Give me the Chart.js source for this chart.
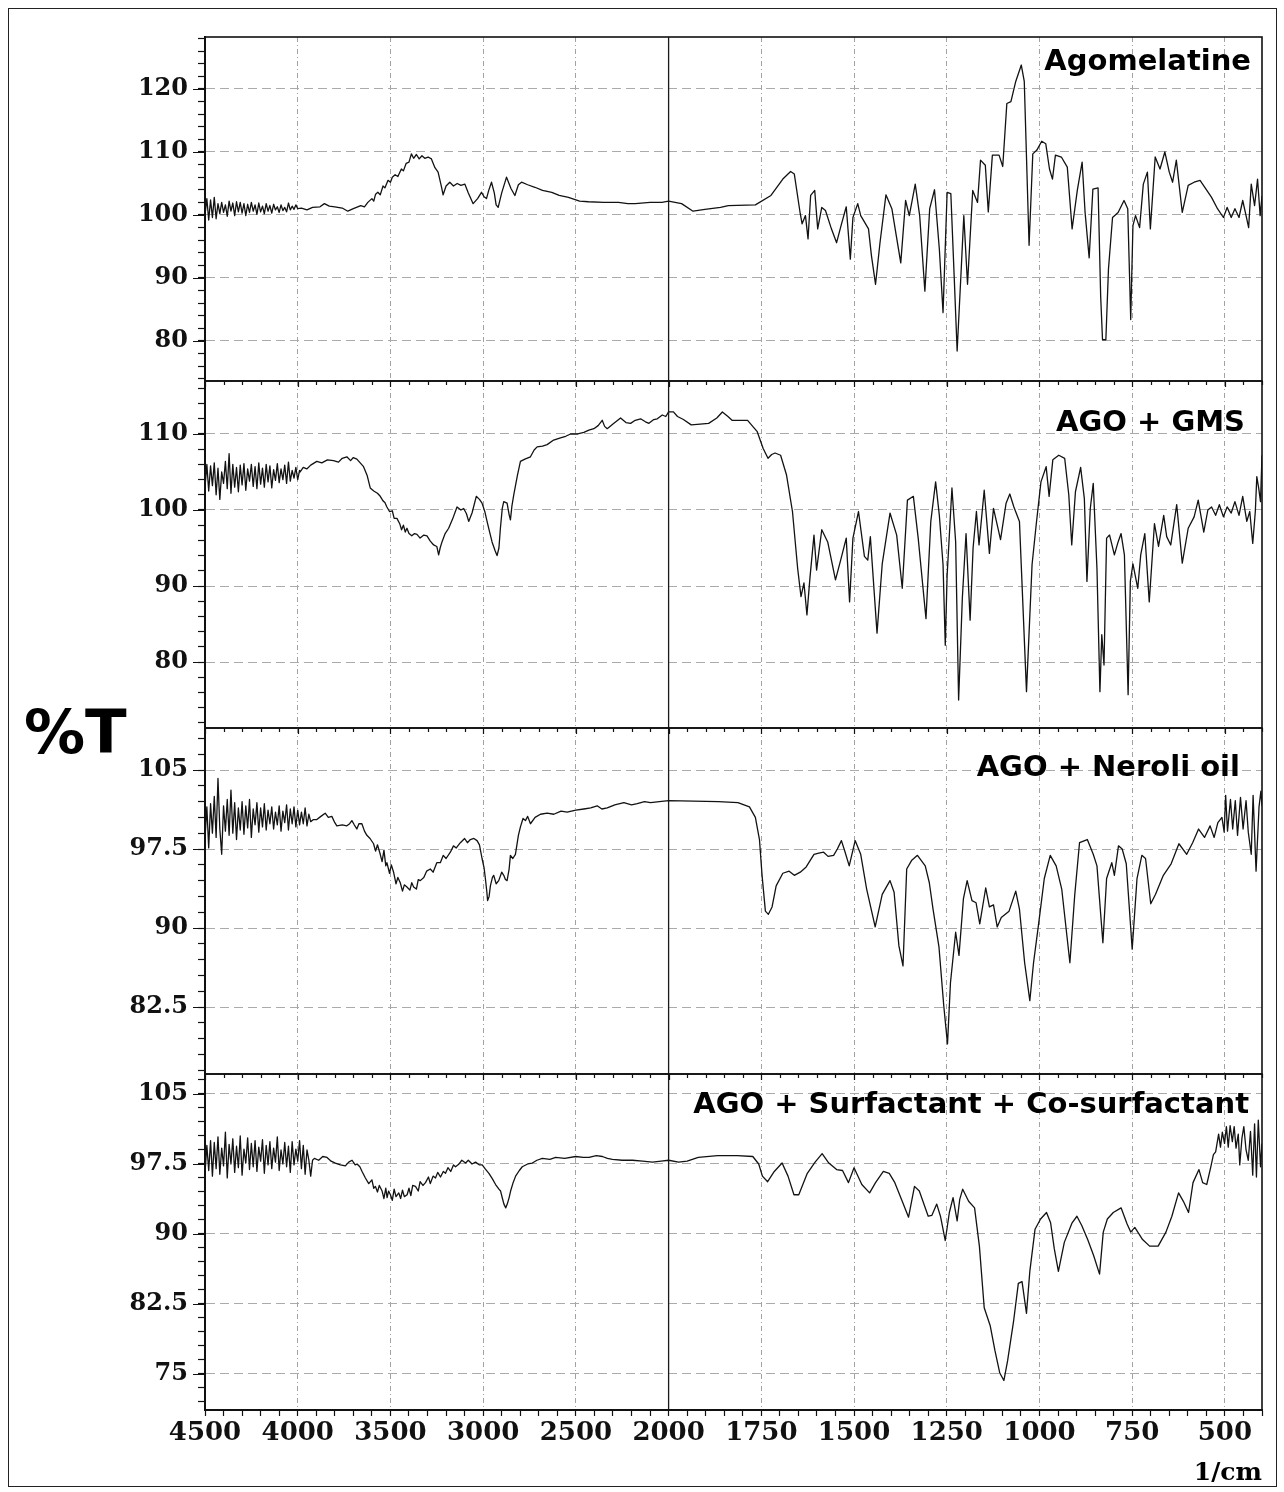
<!DOCTYPE html>
<html>
<head>
<meta charset="utf-8">
<script src="https://cdn.jsdelivr.net/npm/chart.js@4.4.0/dist/chart.umd.min.js"></script>
<style>
  html, body { margin: 0; padding: 0; background: #fff; }
  #wrap { position: relative; width: 1284px; height: 1492px; overflow: hidden; background: #fff; }
  canvas { position: absolute; }
  .frame { position: absolute; left: 8px; top: 8px; width: 1269px; height: 1479px; border: 1.5px solid #222; box-sizing: border-box; }
  .title { position: absolute; font-family: "DejaVu Sans", sans-serif; font-weight: bold; font-size: 29px; line-height: 29px; color: #000; white-space: nowrap; z-index: 5; }
  .ylab { position: absolute; left: 24px; top: 701px; font-family: "DejaVu Sans", sans-serif; font-weight: bold; font-size: 61px; line-height: 61px; color: #000; white-space: nowrap; }
  .xlab { position: absolute; right: 22px; top: 1459px; font-family: "DejaVu Serif", serif; font-weight: bold; font-size: 25px; line-height: 25px; color: #000; white-space: nowrap; }
</style>
</head>
<body>
<div id="wrap">
  <div class="frame"></div>
  <canvas id="c1"></canvas>
  <canvas id="c2"></canvas>
  <canvas id="c3"></canvas>
  <canvas id="c4"></canvas>
  <div class="title" style="right:33px; top:46px;">Agomelatine</div>
  <div class="title" style="right:39px; top:407px;">AGO + GMS</div>
  <div class="title" style="right:44px; top:752px;">AGO + Neroli oil</div>
  <div class="title" style="right:35px; top:1089px;">AGO + Surfactant + Co-surfactant</div>
  <div class="ylab">%T</div>
  <div class="xlab">1/cm</div>
</div>
<script>
// ---------------- DATA ----------------
const X_TICK_LABELS = [4500, 4000, 3500, 3000, 2500, 2000, 1750, 1500, 1250, 1000, 750, 500];
const Y_TICKS_AGO = [80, 90, 100, 110, 120];
const Y_TICKS_GMS = [80, 90, 100, 110];
const Y_TICKS_NEROLI = [82.5, 90, 97.5, 105];
const Y_TICKS_SURF = [75, 82.5, 90, 97.5, 105];

// [wavenumber (1/cm), %T]
const AGOMELATINE = [
[4500,100.0],[4490,102.6],[4480,99.2],[4470,102.4],[4460,99.6],[4450,102.8],[4440,99.4],[4430,101.8],[4420,100.2],[4410,102.0],
[4400,100.4],[4390,101.6],[4380,99.8],[4370,102.2],[4360,100.6],[4350,101.9],[4340,99.9],[4330,102.1],[4320,100.5],[4310,102.0],
[4300,100.3],[4290,101.8],[4280,99.9],[4270,101.7],[4260,100.4],[4250,102.0],[4240,100.6],[4230,101.6],[4220,100.1],[4210,101.9],
[4200,100.5],[4190,101.4],[4180,100.2],[4170,101.8],[4160,100.6],[4150,101.5],[4140,100.3],[4130,101.7],[4120,100.8],[4110,101.3],
[4100,100.4],[4090,101.6],[4080,100.7],[4070,101.2],[4060,100.5],[4050,101.9],[4040,100.8],[4030,101.4],[4020,100.9],[4010,101.6],
[4000,101.0],[3980,101.1],[3950,100.8],[3920,101.2],[3880,101.3],[3856,101.8],[3830,101.4],[3800,101.3],[3760,101.1],[3730,100.6],
[3700,101.0],[3660,101.5],[3640,101.3],[3622,102.0],[3600,102.6],[3590,102.2],[3580,103.3],[3568,103.6],[3555,103.2],[3540,104.6],
[3530,104.3],[3513,105.5],[3500,105.2],[3490,106.0],[3475,106.4],[3460,106.1],[3441,107.3],[3430,107.0],[3415,108.2],[3400,108.4],
[3387,109.7],[3375,109.0],[3360,109.6],[3345,108.9],[3330,109.4],[3315,109.0],[3297,109.2],[3279,108.9],[3260,107.5],[3243,106.8],
[3225,104.5],[3216,103.2],[3200,104.6],[3180,105.2],[3160,104.6],[3140,105.0],[3120,104.7],[3099,104.9],[3080,103.5],[3054,101.8],
[3030,102.6],[3009,103.6],[2995,102.9],[2982,102.6],[2970,103.9],[2955,105.2],[2940,103.5],[2930,101.6],[2919,101.2],[2900,103.5],
[2874,106.0],[2850,104.2],[2829,103.1],[2810,104.8],[2793,105.2],[2760,104.8],[2721,104.4],[2680,103.9],[2630,103.6],[2590,103.1],
[2540,102.8],[2480,102.2],[2432,102.1],[2350,102.0],[2270,102.0],[2220,101.8],[2180,101.8],[2100,102.0],[2036,102.0],[2000,102.2],
[1965,101.8],[1934,100.6],[1902,100.9],[1860,101.2],[1839,101.5],[1766,101.6],[1724,103.1],[1692,105.7],[1671,106.9],[1661,106.5],
[1645,100.2],[1640,98.6],[1631,99.9],[1624,96.2],[1617,103.1],[1606,103.9],[1598,97.8],[1587,101.2],[1577,100.7],[1561,97.8],
[1547,95.6],[1535,98.3],[1521,101.3],[1510,93.0],[1503,99.6],[1490,101.8],[1482,99.9],[1461,97.8],[1453,93.5],[1442,89.0],
[1430,95.6],[1414,103.2],[1398,101.0],[1386,96.7],[1374,92.4],[1361,102.3],[1351,99.9],[1335,104.9],[1323,99.9],[1309,87.9],
[1296,101.0],[1283,104.0],[1270,94.6],[1260,84.5],[1249,103.6],[1239,103.4],[1230,90.3],[1222,78.4],[1211,91.4],[1204,99.9],
[1194,89.0],[1180,103.9],[1167,102.0],[1159,108.7],[1146,107.9],[1138,100.5],[1127,109.5],[1109,109.5],[1099,107.7],[1088,117.7],
[1077,118.0],[1064,121.2],[1049,123.8],[1041,121.2],[1028,95.2],[1018,109.7],[1007,110.3],[994,111.7],[983,111.3],[973,107.3],
[965,105.7],[957,109.5],[941,109.2],[925,107.6],[912,97.8],[898,103.9],[885,108.4],[877,100.4],[866,93.2],[856,104.1],
[842,104.3],[835,87.1],[830,80.2],[821,80.2],[814,91.4],[803,99.6],[788,100.4],[772,102.3],[762,101.0],[754,83.4],
[748,98.3],[741,99.9],[730,98.0],[720,104.9],[709,106.8],[701,97.8],[688,109.2],[675,107.3],[662,110.0],[650,106.8],
[641,105.2],[631,108.7],[615,100.4],[599,104.7],[583,105.2],[567,105.5],[551,104.1],[536,102.8],[520,101.0],[504,99.6],
[494,101.2],[483,99.6],[473,101.0],[462,99.6],[452,102.3],[443,99.9],[436,98.0],[429,104.9],[420,101.5],[412,105.7],
[405,99.9],[400,103.0]
];

const AGO_GMS = [
[4500,103.0],[4490,106.0],[4480,102.5],[4470,105.8],[4460,103.2],[4450,106.2],[4440,102.0],[4430,105.5],[4420,101.4],[4410,105.0],
[4400,103.5],[4390,106.4],[4380,102.8],[4370,107.4],[4360,102.2],[4350,106.0],[4340,103.0],[4330,105.6],[4320,102.4],[4310,105.9],
[4300,103.3],[4290,106.1],[4280,102.6],[4270,105.4],[4260,103.8],[4250,106.0],[4240,103.1],[4230,105.7],[4220,102.8],[4210,106.2],
[4200,103.4],[4190,105.5],[4180,103.0],[4170,106.0],[4160,103.7],[4150,105.8],[4140,102.9],[4130,105.3],[4120,103.9],[4110,106.1],
[4100,103.6],[4090,105.4],[4080,104.0],[4070,105.9],[4060,103.5],[4050,106.3],[4040,103.8],[4030,105.2],[4020,104.2],[4010,105.6],
[4000,104.0],[3990,105.2],[3987,105.0],[3970,105.6],[3951,105.4],[3930,105.9],[3897,106.4],[3870,106.2],[3840,106.6],[3807,106.5],
[3780,106.3],[3760,106.8],[3735,107.0],[3715,106.5],[3700,106.9],[3681,106.7],[3645,105.7],[3625,104.5],[3609,102.9],[3590,102.5],
[3570,102.2],[3555,101.8],[3540,101.2],[3530,101.0],[3519,100.4],[3505,99.8],[3490,99.9],[3480,98.9],[3465,98.9],[3450,98.2],
[3440,97.4],[3430,98.0],[3420,97.1],[3411,97.6],[3400,96.9],[3385,96.6],[3370,96.9],[3357,96.8],[3340,96.3],[3320,96.7],
[3303,96.6],[3285,95.9],[3267,95.4],[3250,95.2],[3240,94.1],[3232,95.0],[3222,95.8],[3205,96.9],[3186,97.6],[3165,98.8],
[3141,100.4],[3120,100.0],[3105,100.2],[3090,99.5],[3078,98.5],[3060,99.6],[3037,101.8],[3020,101.4],[3006,100.9],[2990,99.7],
[2979,98.5],[2965,97.1],[2952,95.8],[2935,94.6],[2925,94.0],[2915,95.0],[2907,97.6],[2897,100.2],[2889,101.1],[2871,100.9],
[2860,99.4],[2853,98.7],[2845,100.5],[2835,102.0],[2815,104.6],[2799,106.4],[2775,106.7],[2745,107.0],[2725,107.9],[2709,108.3],
[2680,108.4],[2655,108.6],[2620,109.2],[2583,109.5],[2555,109.7],[2529,110.0],[2490,110.0],[2457,110.2],[2430,110.5],[2403,110.7],
[2380,111.1],[2358,111.8],[2345,111.0],[2331,110.7],[2300,111.3],[2259,112.1],[2230,111.5],[2205,111.4],[2180,111.8],[2151,112.0],
[2125,111.6],[2106,111.4],[2080,111.9],[2061,112.0],[2034,112.5],[2015,112.3],[2000,112.9],
[1987,112.9],[1976,112.3],[1960,111.9],[1939,111.2],[1915,111.3],[1892,111.4],[1870,112.1],[1855,112.9],[1840,112.3],[1829,111.8],
[1787,111.8],[1761,110.3],[1745,108.1],[1732,106.8],[1722,107.3],[1713,107.5],[1698,107.2],[1682,104.6],[1666,99.8],[1652,92.3],
[1643,88.6],[1635,90.4],[1627,86.2],[1619,91.0],[1608,96.7],[1601,92.1],[1587,97.4],[1571,95.8],[1550,90.8],[1535,93.6],
[1521,96.3],[1512,87.9],[1503,96.3],[1488,99.8],[1472,93.9],[1463,93.4],[1456,96.5],[1438,83.8],[1424,92.9],[1403,99.6],
[1385,96.7],[1370,89.7],[1356,101.3],[1340,101.8],[1327,96.3],[1306,85.7],[1293,98.5],[1280,103.7],[1270,99.3],[1260,92.8],
[1254,82.2],[1249,91.4],[1236,102.9],[1226,95.8],[1218,75.0],[1208,88.4],[1198,96.9],[1187,85.5],[1179,95.0],[1170,99.8],
[1163,95.4],[1149,102.6],[1135,94.3],[1124,100.2],[1105,96.1],[1090,100.9],[1080,102.1],[1069,100.4],[1054,98.5],[1035,76.1],
[1020,92.8],[1009,98.0],[996,103.7],[982,105.7],[974,101.8],[964,106.6],[948,107.2],[932,106.8],[921,102.0],[913,95.4],
[903,102.4],[889,105.6],[879,101.5],[872,90.6],[863,100.2],[855,103.5],[845,92.3],[837,76.1],[832,83.6],[826,79.6],
[819,96.3],[811,96.7],[798,94.1],[788,95.8],[780,96.9],[771,94.1],[761,75.7],[755,90.6],[748,92.9],[735,89.7],
[727,94.1],[716,96.9],[704,87.9],[690,98.2],[679,95.2],[665,99.3],[657,96.5],[646,95.4],[630,100.7],[615,93.0],
[599,97.6],[583,99.1],[572,101.3],[557,97.1],[546,100.0],[536,100.4],[525,99.3],[515,100.7],[504,99.1],[494,100.4],
[483,99.6],[473,101.1],[462,99.3],[452,101.8],[441,98.5],[433,99.8],[425,95.6],[418,99.8],[414,104.4],[409,102.9],
[404,101.1],[400,107.2]
];

const AGO_NEROLI = [
[4500,98.5],[4490,101.5],[4480,97.6],[4470,101.8],[4460,99.0],[4450,102.5],[4440,98.6],[4430,104.2],[4420,99.4],[4410,97.0],
[4400,101.6],[4390,99.2],[4380,102.2],[4370,98.8],[4360,103.1],[4350,99.0],[4340,101.9],[4330,98.4],[4320,101.4],[4310,99.3],
[4300,102.0],[4290,98.9],[4280,101.6],[4270,99.5],[4260,102.2],[4250,98.6],[4240,101.3],[4230,99.8],[4220,101.9],[4210,99.1],
[4200,101.4],[4190,99.6],[4180,101.8],[4170,99.3],[4160,101.2],[4150,99.9],[4140,101.5],[4130,99.4],[4120,101.0],[4110,99.8],
[4100,101.6],[4090,99.2],[4080,101.1],[4070,100.0],[4060,101.7],[4050,99.3],[4040,101.3],[4030,99.9],[4020,101.5],[4010,99.6],
[4000,101.2],[3990,99.8],[3980,101.0],[3970,99.9],[3960,101.4],[3950,99.7],[3940,100.8],[3930,100.1],
[3915,100.3],[3897,100.3],[3875,100.6],[3852,100.9],[3835,100.5],[3816,100.6],[3800,100.0],[3789,99.7],[3760,99.8],[3735,99.7],
[3720,99.9],[3708,100.2],[3695,99.8],[3681,99.4],[3670,99.9],[3654,99.9],[3640,99.2],[3627,98.8],[3610,98.5],[3591,98.0],
[3580,97.3],[3570,97.9],[3555,97.0],[3545,96.3],[3535,97.4],[3525,95.9],[3519,96.2],[3505,95.2],[3495,96.0],[3483,95.3],
[3470,94.2],[3460,94.8],[3447,94.3],[3435,93.5],[3425,94.1],[3411,93.9],[3395,93.6],[3385,94.3],[3375,93.9],[3360,93.7],
[3350,94.6],[3339,94.5],[3320,94.8],[3305,95.4],[3285,95.6],[3270,95.3],[3250,96.2],[3231,96.2],[3215,96.9],[3200,96.6],
[3177,97.2],[3160,97.8],[3145,97.6],[3123,98.1],[3100,98.5],[3085,98.1],[3069,98.4],[3050,98.5],[3033,98.3],[3020,97.9],
[3006,96.6],[2995,95.7],[2988,94.7],[2980,93.4],[2976,92.6],[2968,93.0],[2961,94.0],[2950,94.8],[2943,95.0],[2930,94.2],
[2916,94.5],[2900,95.3],[2889,95.0],[2880,94.6],[2871,94.5],[2860,95.6],[2853,96.9],[2840,96.6],[2826,97.0],[2810,98.8],
[2799,99.6],[2785,100.4],[2772,100.2],[2760,100.6],[2745,99.9],[2720,100.5],[2691,100.8],[2655,100.9],[2619,100.8],[2580,101.1],
[2547,101.0],[2500,101.2],[2457,101.3],[2420,101.4],[2385,101.6],[2360,101.3],[2331,101.4],[2290,101.7],[2241,101.9],[2200,101.7],
[2169,101.8],[2130,102.0],[2097,101.9],[2050,102.0],[2000,102.1],
[1866,102.0],[1813,101.9],[1782,101.5],[1766,100.5],[1755,98.4],[1748,95.0],[1739,91.6],[1731,91.3],[1721,92.0],[1710,94.0],
[1692,95.2],[1675,95.4],[1661,95.0],[1645,95.3],[1629,95.8],[1608,97.0],[1595,97.1],[1582,97.2],[1570,96.8],[1555,96.9],
[1545,97.5],[1534,98.3],[1524,97.2],[1513,95.9],[1497,98.3],[1482,97.0],[1466,93.7],[1443,90.1],[1424,93.2],[1403,94.5],
[1392,93.4],[1379,88.3],[1368,86.4],[1358,95.6],[1345,96.4],[1329,96.9],[1308,95.9],[1297,94.3],[1287,91.8],[1271,88.2],
[1258,82.6],[1248,79.0],[1240,84.8],[1226,89.6],[1217,87.4],[1205,92.8],[1195,94.5],[1182,92.6],[1171,92.4],[1161,90.4],
[1145,93.8],[1135,92.0],[1124,92.2],[1114,90.1],[1103,91.0],[1082,91.6],[1064,93.5],[1054,91.8],[1040,86.7],[1026,83.1],
[1016,86.7],[1003,90.2],[987,94.7],[971,96.9],[955,95.9],[940,93.7],[918,86.7],[905,93.1],[892,98.1],[871,98.4],
[855,97.0],[845,95.9],[829,88.6],[819,94.7],[805,96.2],[798,95.0],[787,97.8],[777,97.5],[766,96.1],[750,88.0],
[737,94.7],[724,96.9],[714,96.6],[700,92.3],[687,93.2],[666,95.0],[645,96.1],[624,98.0],[603,97.0],[587,98.1],
[571,99.4],[555,98.6],[540,99.7],[529,98.6],[519,100.0],[508,100.5],[502,99.1],[498,102.6],[493,99.2],[485,102.2],
[479,99.4],[472,102.1],[466,98.8],[458,102.4],[451,99.4],[443,102.1],[437,99.1],[429,97.0],[424,102.6],[416,95.4],
[408,101.5],[403,103.0],[400,101.6]
];

const AGO_SURF_COSURF = [
[4500,96.5],[4490,99.5],[4480,96.8],[4470,100.0],[4460,96.2],[4450,99.8],[4440,97.0],[4430,100.4],[4420,96.4],[4410,99.2],
[4400,97.3],[4390,100.9],[4380,96.0],[4370,99.6],[4360,97.5],[4350,100.2],[4340,96.6],[4330,99.4],[4320,97.1],[4310,100.5],
[4300,96.3],[4290,99.1],[4280,97.6],[4270,100.3],[4260,96.9],[4250,99.7],[4240,97.2],[4230,100.0],[4220,96.7],[4210,99.3],
[4200,97.8],[4190,100.1],[4180,96.5],[4170,99.5],[4160,97.4],[4150,99.9],[4140,97.0],[4130,99.2],[4120,97.7],[4110,100.4],
[4100,96.8],[4090,99.0],[4080,97.5],[4070,99.8],[4060,97.2],[4050,99.4],[4040,96.6],[4030,99.9],[4020,97.4],[4010,99.1],
[4000,97.8],[3990,100.0],[3980,97.0],[3970,99.5],[3960,96.4],[3950,99.0],[3940,97.9],[3930,96.2],
[3920,97.9],[3910,98.1],[3887,97.9],[3865,98.3],[3842,98.2],[3820,97.8],[3797,97.6],[3770,97.4],[3743,97.3],[3725,97.7],
[3707,97.9],[3690,97.4],[3680,97.5],[3665,97.2],[3653,96.7],[3635,96.0],[3617,95.4],[3600,95.8],[3590,94.9],[3581,95.1],
[3570,94.5],[3560,95.2],[3545,94.6],[3535,93.8],[3525,94.9],[3518,93.9],[3510,94.6],[3500,94.2],[3490,93.6],[3480,94.8],
[3470,94.0],[3455,94.4],[3445,93.8],[3435,94.7],[3425,94.0],[3410,94.2],[3400,94.9],[3390,94.1],[3380,95.2],[3365,95.1],
[3350,94.6],[3340,95.6],[3325,95.2],[3311,95.5],[3295,96.1],[3285,95.4],[3270,96.2],[3257,96.0],[3245,96.6],[3230,96.1],
[3215,96.7],[3203,96.5],[3190,97.1],[3175,96.7],[3160,97.4],[3149,97.2],[3130,97.5],[3115,97.9],[3095,97.6],[3080,97.9],
[3060,97.5],[3041,97.7],[3020,97.4],[3005,97.4],[2990,97.0],[2969,96.5],[2950,95.9],[2933,95.3],[2915,94.8],[2906,94.6],
[2896,93.8],[2888,93.2],[2878,92.8],[2870,93.2],[2860,93.9],[2852,94.6],[2840,95.4],[2825,96.2],[2805,96.8],[2789,97.2],
[2760,97.5],[2735,97.6],[2710,97.9],[2681,98.1],[2640,98.0],[2609,98.2],[2560,98.1],[2501,98.3],[2460,98.2],[2429,98.2],
[2390,98.4],[2357,98.3],[2330,98.1],[2303,98.0],[2250,97.9],[2195,97.9],[2140,97.8],[2087,97.7],[2040,97.8],[2000,97.9],
[1973,97.7],[1950,97.8],[1920,98.2],[1868,98.4],[1815,98.4],[1773,98.3],[1757,97.5],[1747,96.2],[1733,95.6],[1715,96.7],
[1694,97.6],[1678,96.2],[1662,94.2],[1649,94.2],[1626,96.5],[1605,97.7],[1586,98.6],[1568,97.6],[1547,96.9],[1531,96.8],
[1515,95.5],[1500,97.1],[1479,95.3],[1458,94.4],[1442,95.5],[1421,96.7],[1405,96.5],[1390,95.5],[1369,93.4],[1353,91.8],
[1337,95.1],[1324,94.6],[1300,91.9],[1290,92.0],[1277,93.2],[1267,91.9],[1254,89.3],[1243,92.3],[1233,93.9],[1222,91.4],
[1215,93.7],[1207,94.8],[1191,93.5],[1175,92.8],[1162,88.7],[1149,82.1],[1133,80.2],[1120,77.5],[1107,75.1],[1096,74.3],
[1086,76.4],[1070,80.6],[1057,84.7],[1047,84.9],[1035,81.5],[1026,86.0],[1012,90.5],[997,91.6],[981,92.3],[970,91.2],
[960,88.4],[949,86.0],[933,89.1],[912,91.2],[899,91.9],[886,90.9],[870,89.4],[854,87.7],[838,85.7],[828,90.2],
[817,91.6],[801,92.3],[780,92.8],[764,91.1],[754,90.2],[743,90.7],[722,89.4],[703,88.7],[680,88.7],[659,90.2],
[643,91.9],[625,94.4],[612,93.5],[598,92.3],[586,95.5],[570,96.9],[560,95.5],[549,95.3],[538,97.2],[531,98.5],
[525,98.8],[517,100.7],[512,99.3],[507,100.9],[501,99.7],[496,101.5],[491,99.3],[486,101.6],[480,99.9],[475,101.5],
[470,99.2],[464,100.7],[460,97.4],[454,100.3],[449,101.5],[443,99.0],[437,97.9],[431,101.0],[425,96.3],[420,101.8],
[415,96.1],[410,102.2],[404,97.2],[400,99.7]
];

// ---------------- AXIS TRANSFORM (scale change at 2000 1/cm) ----------------
function toP(w) { return w >= 2000 ? (4500 - w) / 2 : 1250 + (2000 - w); }
function fromP(p) { return p <= 1250 ? 4500 - 2 * p : 2000 - (p - 1250); }
const xTickWn = [];
for (let w = 4500; w >= 2000; w -= 100) xTickWn.push(w);
for (let w = 1950; w >= 400; w -= 50) xTickWn.push(w);
const xTickP = xTickWn.map(toP);
function isMajorX(p) { return X_TICK_LABELS.includes(Math.round(fromP(p))); }

const PANELS = [
  { id: 'c1', data: AGOMELATINE, yMin: 73.65, yMax: 128.25, major: Y_TICKS_AGO, step: 2, top: 37, bottom: 381 },
  { id: 'c2', data: AGO_GMS, yMin: 71.32, yMax: 116.97, major: Y_TICKS_GMS, step: 2, top: 381, bottom: 728 },
  { id: 'c3', data: AGO_NEROLI, yMin: 76.14, yMax: 108.99, major: Y_TICKS_NEROLI, step: 1.5, top: 728, bottom: 1074 },
  { id: 'c4', data: AGO_SURF_COSURF, yMin: 71.14, yMax: 107.14, major: Y_TICKS_SURF, step: 1.5, top: 1074, bottom: 1410 }
];

function makeChart(cfg, idx) {
  const isLast = idx === PANELS.length - 1;
  const padTop = 30, padBottom = isLast ? 0 : 30, xAxisH = isLast ? 75 : 0;
  const canvas = document.getElementById(cfg.id);
  canvas.width = 1185;
  canvas.height = (cfg.bottom - cfg.top) + padTop + padBottom + xAxisH;
  canvas.style.left = '90px';
  canvas.style.top = (cfg.top - padTop) + 'px';

  const isMajorY = v => cfg.major.some(m => Math.abs(m - v) < 1e-6);
  const yTicks = [];
  const base = cfg.major[0];
  for (let k = -20; k <= 60; k++) {
    const v = Math.round((base + k * cfg.step) * 100) / 100;
    if (v > cfg.yMin && v < cfg.yMax) yTicks.push(v);
  }

  const deco = {
    id: 'panelDeco' + idx,
    beforeDatasetsDraw(chart) {
      const { ctx, chartArea: a, scales: { x } } = chart;
      const px = x.getPixelForValue(toP(2000));
      ctx.save();
      ctx.strokeStyle = '#1a1a1a'; ctx.lineWidth = 1.3;
      ctx.beginPath(); ctx.moveTo(px, a.top); ctx.lineTo(px, a.bottom); ctx.stroke();
      ctx.restore();
    },
    afterDraw(chart) {
      const { ctx, chartArea: a, scales: { x, y } } = chart;
      ctx.save();
      ctx.strokeStyle = '#111';
      ctx.lineWidth = 1.6;
      ctx.strokeRect(a.left, a.top, a.right - a.left, a.bottom - a.top);
      ctx.lineWidth = 1.2;
      ctx.beginPath();
      y.ticks.forEach(t => {
        if (isMajorY(t.value)) {
          const py = Math.round(y.getPixelForValue(t.value)) + 0.5;
          ctx.moveTo(a.left - 12, py); ctx.lineTo(a.left, py);
        }
      });
      if (idx > 0) {
        x.ticks.forEach(t => {
          const px = Math.round(x.getPixelForValue(t.value)) + 0.5;
          const L = isMajorX(t.value) ? 6 : 4;
          ctx.moveTo(px, a.top); ctx.lineTo(px, a.top + L);
        });
      }
      ctx.stroke();
      ctx.restore();
    }
  };

  return new Chart(canvas, {
    type: 'line',
    data: {
      datasets: [{
        data: cfg.data.map(([w, t]) => ({ x: toP(w), y: t })),
        borderColor: '#121212',
        borderWidth: 1.3,
        borderJoinStyle: 'round',
        pointRadius: 0,
        tension: 0,
        fill: false
      }]
    },
    options: {
      responsive: false,
      animation: false,
      devicePixelRatio: 1,
      events: [],
      layout: { padding: { left: 0, right: 13, top: padTop, bottom: padBottom } },
      plugins: { legend: { display: false }, tooltip: { enabled: false }, title: { display: false } },
      scales: {
        x: {
          type: 'linear',
          min: 0,
          max: toP(400),
          afterBuildTicks: s => { s.ticks = xTickP.map(v => ({ value: v })); },
          afterFit: s => { s.height = xAxisH; },
          ticks: {
            display: isLast, autoSkip: false, maxRotation: 0, minRotation: 0, padding: 2, color: '#111',
            font: { family: 'DejaVu Serif', weight: 'bold', size: 26 },
            callback: v => isMajorX(v) ? String(Math.round(fromP(v))) : ''
          },
          grid: {
            drawTicks: isLast, tickLength: 6, tickColor: '#111', tickWidth: 1.2, lineWidth: 1,
            color: c => (c.tick && isMajorX(c.tick.value) && Math.abs(c.tick.value - 1250) > 0.5) ? '#a2a2a2' : 'rgba(0,0,0,0)'
          },
          border: { display: isLast, color: '#111', width: 2, dash: [5, 3, 1, 3] }
        },
        y: {
          type: 'linear',
          min: cfg.yMin,
          max: cfg.yMax,
          afterBuildTicks: s => { s.ticks = yTicks.map(v => ({ value: v })); },
          afterFit: s => { s.width = 115; },
          ticks: {
            autoSkip: false, padding: 10, color: '#111',
            font: { family: 'DejaVu Serif', weight: 'bold', size: 24 },
            callback: v => isMajorY(v) ? String(v) : ''
          },
          grid: {
            tickLength: 7, tickColor: '#111', tickWidth: 1.2, lineWidth: 1,
            color: c => (c.tick && isMajorY(c.tick.value)) ? '#ababab' : 'rgba(0,0,0,0)'
          },
          border: { display: true, color: '#111', width: 2, dash: [9, 5] }
        }
      }
    },
    plugins: [deco]
  });
}

PANELS.forEach(makeChart);
</script>
</body>
</html>
